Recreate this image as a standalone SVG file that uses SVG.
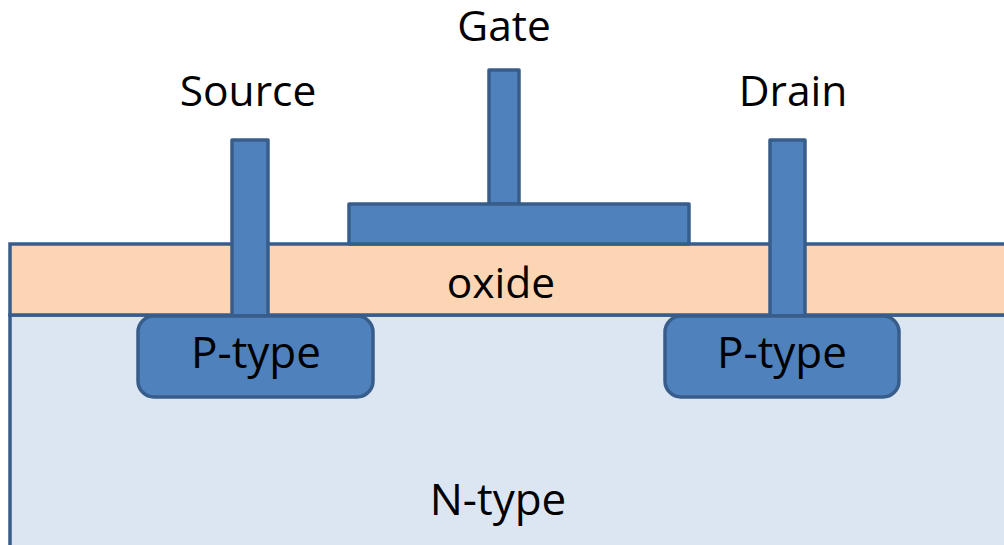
<svg xmlns="http://www.w3.org/2000/svg" width="1004" height="545" viewBox="0 0 1004 545">
<style>
.b{fill:#4f81bd;stroke:#385d8a;stroke-width:3.5;stroke-linejoin:round}
.l{fill:#dce6f2;stroke:#385d8a;stroke-width:3.5}
.o{fill:#fcd5b5;stroke:#385d8a;stroke-width:3.5}
text{font-family:"Open Sans","Noto Sans",sans-serif;font-size:42.5px;fill:#000;text-anchor:middle}
.t{font-size:44px}
</style>
<rect width="1004" height="545" fill="#fff"/>
<g id="ntype"><rect class="l" x="10" y="315" width="1010" height="250"/><text class="t" x="498" y="515">N-type</text></g>
<g id="oxide"><rect class="o" x="10" y="244" width="1010" height="71"/><text x="501" y="298">oxide</text></g>
<g id="gate"><rect class="b" x="489" y="70" width="30" height="134"/><rect class="b" x="349" y="204" width="340" height="40"/><text x="504" y="41">Gate</text></g>
<g id="source"><rect class="b" x="232" y="140" width="36" height="176"/><rect class="b" x="138" y="316" width="235" height="81" rx="16"/><text x="248" y="106">Source</text><text class="t" x="256" y="368">P-type</text></g>
<g id="drain"><rect class="b" x="770" y="140" width="35" height="176"/><rect class="b" x="665" y="316" width="234" height="81" rx="16"/><text x="793" y="106">Drain</text><text class="t" x="782" y="368">P-type</text></g>
</svg>
